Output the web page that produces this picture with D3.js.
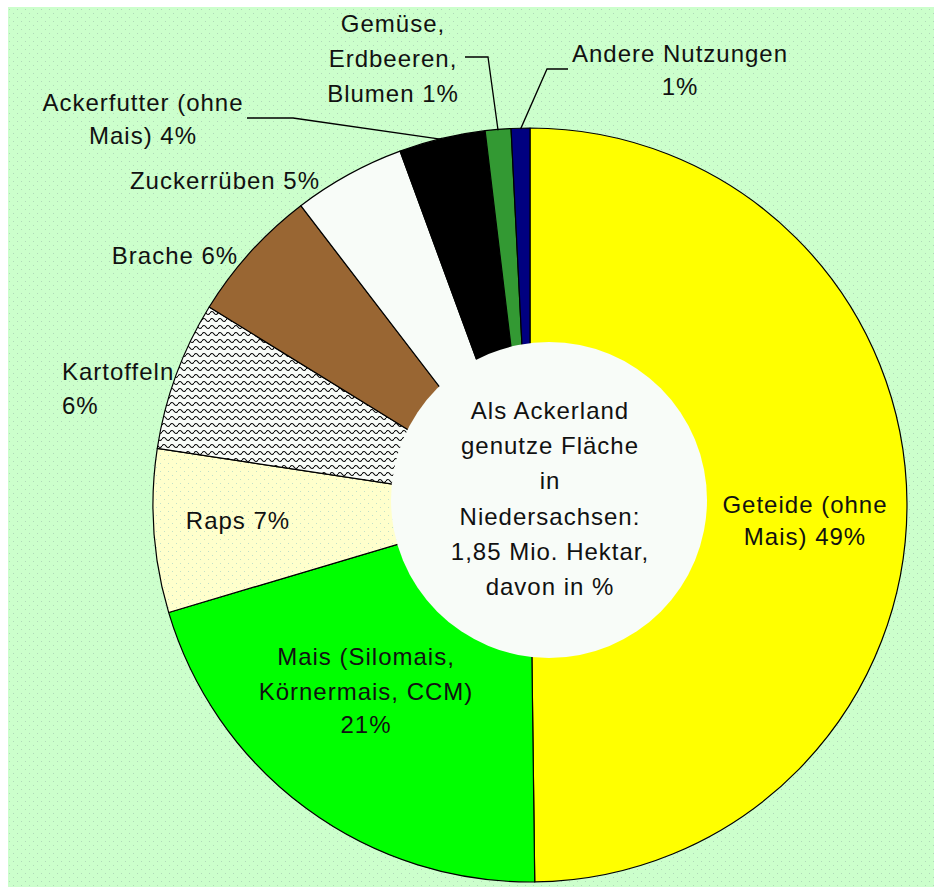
<!DOCTYPE html>
<html>
<head>
<meta charset="utf-8">
<script src="https://cdn.jsdelivr.net/npm/d3@7"></script>
<style>
  body { margin: 0; background: #fff; }
  svg { display: block; }
  text { font-family: Arial, "Liberation Sans", sans-serif; font-size: 24px; letter-spacing: 1px; fill: #111; }
</style>
</head>
<body>
<script>
const width = 934,
  height = 887;

// slice shares in % (clockwise from 12 o'clock)
const categories = ["Geteide", "Mais", "Raps", "Kartoffeln", "Brache", "Zuckerrüben", "Ackerfutter", "Gemüse", "Andere"];
const values = [49.8, 20.6, 7.0, 6.4, 5.8, 4.8, 3.7, 1.1, 0.8];
const labelLines = [
  ["Geteide (ohne", "Mais) 49%"],
  ["Mais (Silomais,", "Körnermais, CCM)", "21%"],
  ["Raps 7%"],
  ["Kartoffeln", "6%"],
  ["Brache 6%"],
  ["Zuckerrüben 5%"],
  ["Ackerfutter (ohne", "Mais) 4%"],
  ["Gemüse,", "Erdbeeren,", "Blumen 1%"],
  ["Andere Nutzungen", "1%"]
];
const centerLines = ["Als Ackerland", "genutze Fläche", "in", "Niedersachsen:", "1,85 Mio. Hektar,", "davon in %"];

// colours / fills
const fills = ["#ffff00", "#00ff00", "url(#raps)", "url(#wave)", "#996633", "#f8fcf8", "#000000", "#339933", "#000080"];

// label placement (x, baselines, anchor, optional leader elbow)
const labelPos = [
  { x: 805, y: [513, 545], anchor: "middle" },
  { x: 366, y: [665, 700, 733], anchor: "middle" },
  { x: 238, y: [529], anchor: "middle" },
  { x: 62, y: [380, 414], anchor: "start" },
  { x: 175, y: [264], anchor: "middle" },
  { x: 225, y: [189], anchor: "middle" },
  { x: 143, y: [111, 144], anchor: "middle", leader: [[247, 118], [293, 118]] },
  { x: 393, y: [32, 67, 102], anchor: "middle", leader: [[465, 57], [488, 57]] },
  { x: 680, y: [62, 95], anchor: "middle", leader: [[568, 69], [547, 69]] }
];

const cx = 530, cy = 505, radius = 377;

const svg = d3.select("body").append("svg")
  .attr("width", width)
  .attr("height", height);

const defs = svg.append("defs");

// dotted green background
const bg = defs.append("pattern").attr("id", "bgdots")
  .attr("patternUnits", "userSpaceOnUse").attr("width", 8).attr("height", 8);
bg.append("rect").attr("width", 8).attr("height", 8).attr("fill", "#ccffcc");
bg.append("rect").attr("x", 1).attr("y", 1).attr("width", 1).attr("height", 1).attr("fill", "#b0d8b8");
bg.append("rect").attr("x", 5).attr("y", 5).attr("width", 1).attr("height", 1).attr("fill", "#b0d8b8");

// dotted light yellow (Raps)
const rp = defs.append("pattern").attr("id", "raps")
  .attr("patternUnits", "userSpaceOnUse").attr("width", 8).attr("height", 8);
rp.append("rect").attr("width", 8).attr("height", 8).attr("fill", "#ffffcc");
rp.append("rect").attr("x", 2).attr("y", 2).attr("width", 1).attr("height", 1).attr("fill", "#c0e0c8");
rp.append("rect").attr("x", 6).attr("y", 6).attr("width", 1).attr("height", 1).attr("fill", "#c0e0c8");

// wavy lines (Kartoffeln)
const wv = defs.append("pattern").attr("id", "wave")
  .attr("patternUnits", "userSpaceOnUse").attr("width", 8).attr("height", 7);
wv.append("rect").attr("width", 8).attr("height", 7).attr("fill", "#f8fcf8");
wv.append("path").attr("d", "M0,4 Q2,1 4,4 T8,4")
  .attr("fill", "none").attr("stroke", "#000").attr("stroke-width", 1.1);

svg.append("rect")
  .attr("x", 8).attr("y", 7)
  .attr("width", width - 8).attr("height", height - 7)
  .attr("fill", "url(#bgdots)");

const pie = d3.pie().value(d => d).sort(null)
  .startAngle(0).endAngle(2 * Math.PI);
const arcs = pie(values);

const arc = d3.arc().innerRadius(0).outerRadius(radius);
const rimArc = d3.arc().innerRadius(radius).outerRadius(radius);

const g = svg.append("g").attr("transform", `translate(${cx},${cy})`);

g.selectAll("path.slice")
  .data(arcs)
  .join("path")
  .attr("class", "slice")
  .attr("d", arc)
  .attr("fill", (d, i) => fills[i])
  .attr("stroke", "#000")
  .attr("stroke-width", 1.2)
  .attr("stroke-linejoin", "round");

// white centre disc
svg.append("circle")
  .attr("cx", 549).attr("cy", 500).attr("r", 158)
  .attr("fill", "#f8fcf8");

// leader lines
arcs.forEach((d, i) => {
  const p = labelPos[i];
  if (!p.leader) return;
  const end = rimArc.centroid(d);
  const pts = p.leader.concat([[cx + end[0], cy + end[1] + 1]]);
  svg.append("path")
    .attr("d", d3.line()(pts))
    .attr("fill", "none")
    .attr("stroke", "#000")
    .attr("stroke-width", 1.3);
});

// slice labels
labelLines.forEach((lines, i) => {
  const p = labelPos[i];
  const t = svg.append("text").attr("text-anchor", p.anchor);
  lines.forEach((s, j) => {
    t.append("tspan").attr("x", p.x).attr("y", p.y[j]).text(s);
  });
});

// centre text
const ct = svg.append("text").attr("text-anchor", "middle");
centerLines.forEach((s, j) => {
  ct.append("tspan").attr("x", 550).attr("y", 419 + j * 35.2).text(s);
});
</script>
</body>
</html>
